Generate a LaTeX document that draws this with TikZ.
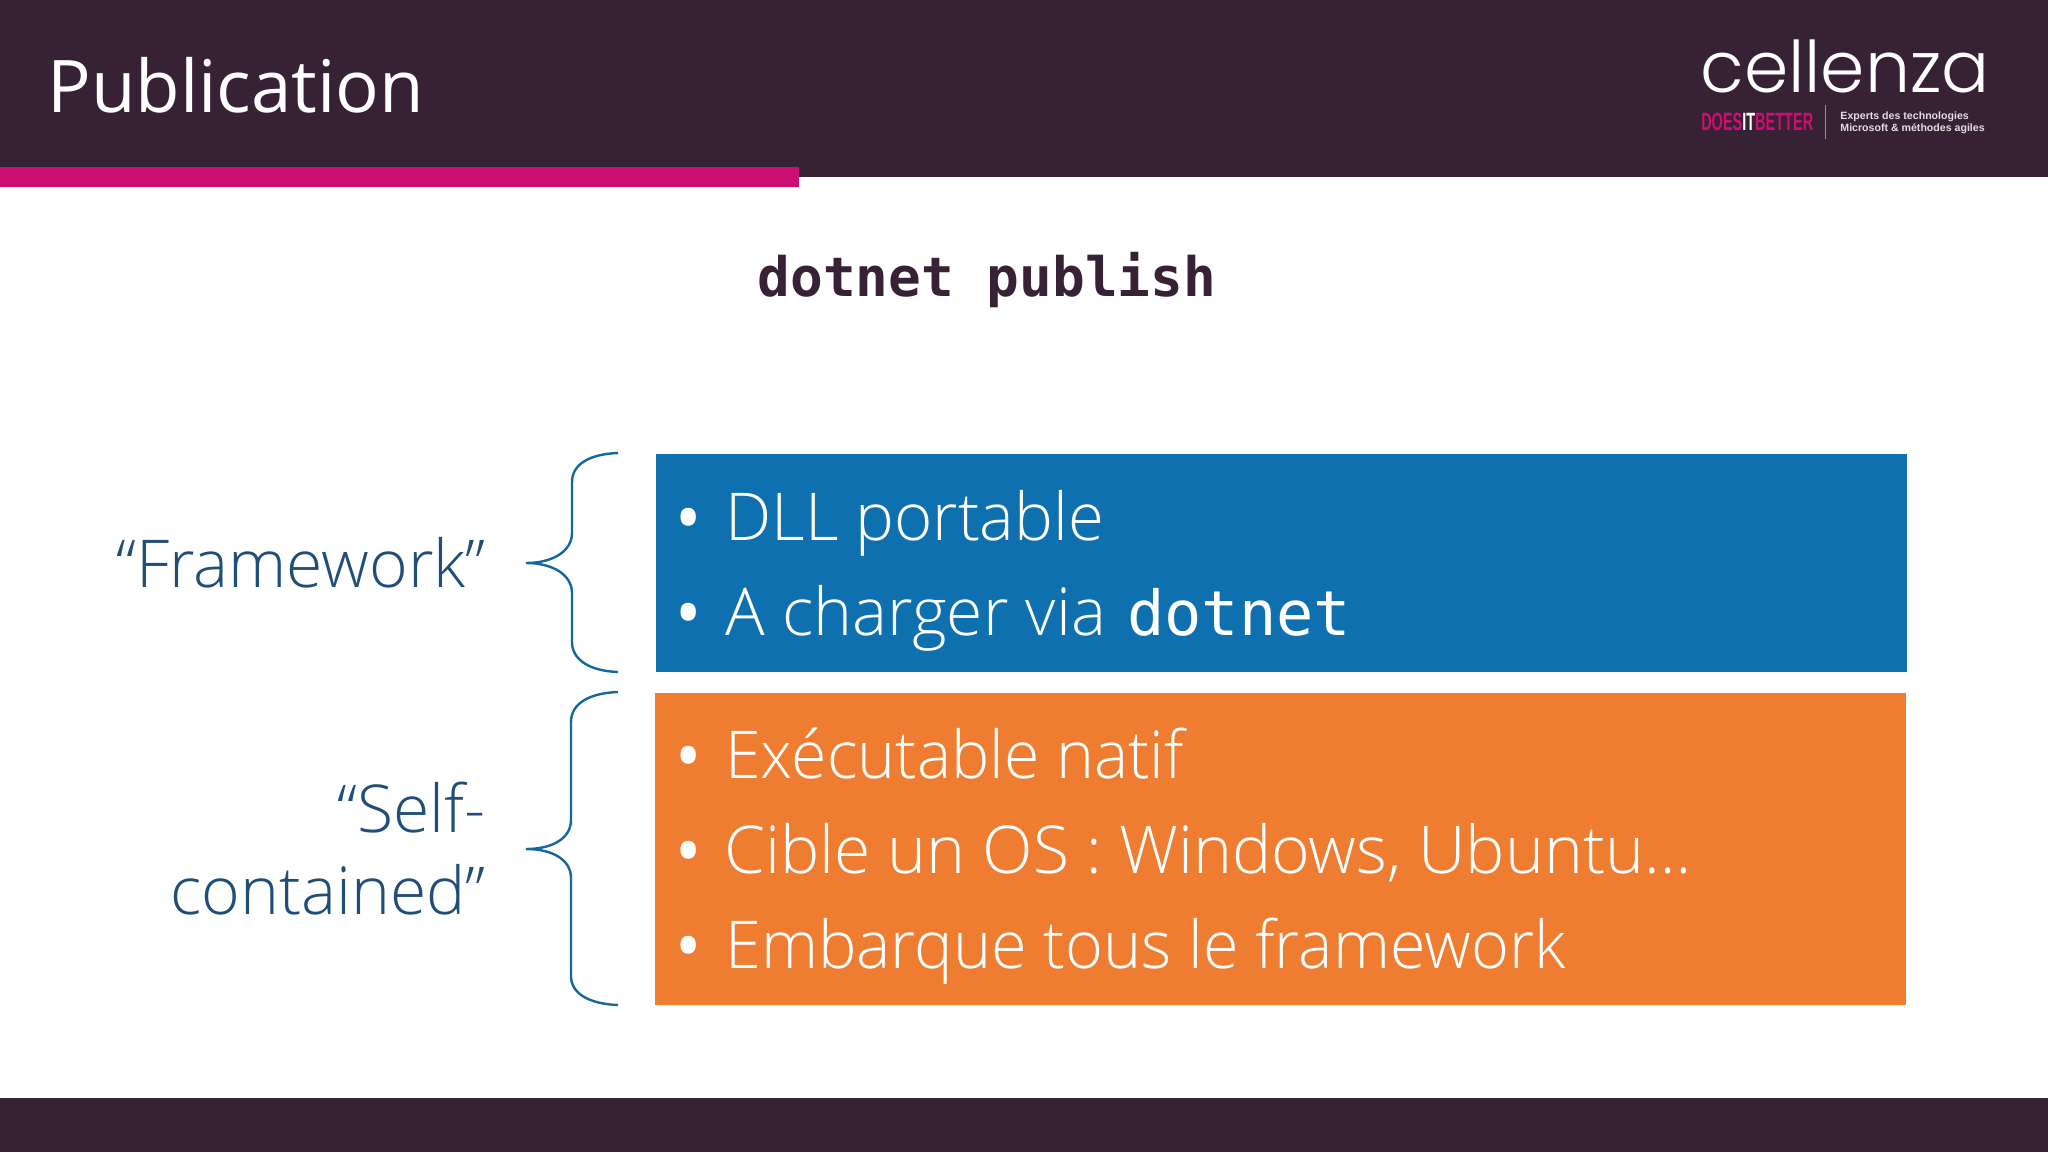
\documentclass[tikz,border=0pt]{standalone}
\usepackage{fontspec}
\setmainfont{Open Sans Light}
\setmonofont{DejaVu Sans Mono}
\newfontfamily\titlefont{Open Sans}
\newfontfamily\logofont{Poppins Light}
\newfontfamily\tagfont{Liberation Sans}
\usepackage{tikz}
\definecolor{darkband}{HTML}{372135}
\definecolor{pinkbar}{HTML}{CC0F70}
\definecolor{blueblock}{HTML}{0E70AE}
\definecolor{orangeblock}{HTML}{EE7D31}
\definecolor{bracecol}{HTML}{14679F}
\definecolor{labelcol}{HTML}{1F4E79}

\begin{document}
\begin{tikzpicture}[x=0.5pt,y=-0.5pt,
band/.style={fill=darkband,draw=none},
block/.style={draw=none},
item/.style={anchor=base west,inner sep=0pt,text=white,font=\fontsize{33}{36}\selectfont},
dot/.style={anchor=base,inner sep=0pt,yshift=-7pt,text=white,font=\fontsize{51}{54}\selectfont},
side/.style={anchor=base east,inner sep=0pt,text=labelcol,font=\fontsize{33}{36}\selectfont},
brace/.style={draw=bracecol,line width=1.2pt}]

\useasboundingbox (0,0) rectangle (2048,1152);
\fill[white] (0,0) rectangle (2048,1152);

% bands
\fill[band] (0,0) rectangle (2048,177);
\fill[band] (0,1098) rectangle (2048,1152);
\fill[pinkbar] (0,167) rectangle (799,187);

\node[anchor=base west,inner sep=0pt,text=white,font=\fontsize{36.3}{40}\titlefont] (title) at (47,112) {Publication};
\node[anchor=base,inner sep=0pt,text=darkband,font=\fontsize{27.2}{30}\selectfont\ttfamily\bfseries] (cmd) at (987,296) {dotnet publish};

% logo
\node[anchor=base west,inner sep=0pt,text=white,font=\fontsize{35.6}{38}\logofont] (logo) at (1700,92) {cellenza};
\node[anchor=base west,inner sep=0pt,xscale=0.58,font=\fontsize{12.5}{14}\tagfont\bfseries] (does) at (1701,130) {\textcolor{pinkbar}{DOES}\textcolor{white}{IT}\textcolor{pinkbar}{BETTER}};
\draw[white!50!darkband,line width=0.5pt] (1825,105) -- (1825,139);
\node[anchor=base west,inner sep=0pt,align=left,text=white!85!darkband,font=\fontsize{5.3}{6}\tagfont\bfseries] (tag) at (1840,131) {Experts des technologies\\Microsoft \& méthodes agiles};

% blocks
\fill[blueblock,block] (656,454) rectangle (1907,672);
\fill[orangeblock,block] (655,693) rectangle (1906,1005);

\node[dot] (d1) at (689,540) {•};
\node[item,xscale=0.99] (t1) at (725,540) {DLL portable};
\node[dot] (d2) at (689,635) {•};
\node[item] (t2) at (725,635) {A charger via\hspace{2pt} {\fontsize{31}{36}\ttfamily dotnet}};
\node[dot] (d3) at (689,778) {•};
\node[item,xscale=0.975] (t3) at (725,778) {Exécutable natif};
\node[dot] (d4) at (689,873) {•};
\node[item] (t4) at (724,873) {Cible un OS : Windows, Ubuntu…};
\node[dot] (d5) at (689,968) {•};
\node[item,xscale=0.98] (t5) at (725,968) {Embarque tous le framework};

% labels
\node[side] (fw) at (486,587) {“Framework”};
\node[side] (sc1) at (486,832) {“Self-};
\node[side] (sc2) at (486,914) {contained”};

% braces
\draw[brace] (618,453) .. controls (590,454) and (572,464) .. (572,482) -- (572,533)
  .. controls (572,551) and (553,563) .. (526,563)
  .. controls (553,563) and (572,575) .. (572,593) -- (572,642)
  .. controls (572,660) and (590,671) .. (618,672);
\draw[brace] (618,692) .. controls (590,693) and (571,703) .. (571,722) -- (571,820)
  .. controls (571,838) and (553,849) .. (526,849)
  .. controls (553,849) and (571,860) .. (571,878) -- (571,976)
  .. controls (571,994) and (590,1004) .. (618,1005);

\end{tikzpicture}
\end{document}
